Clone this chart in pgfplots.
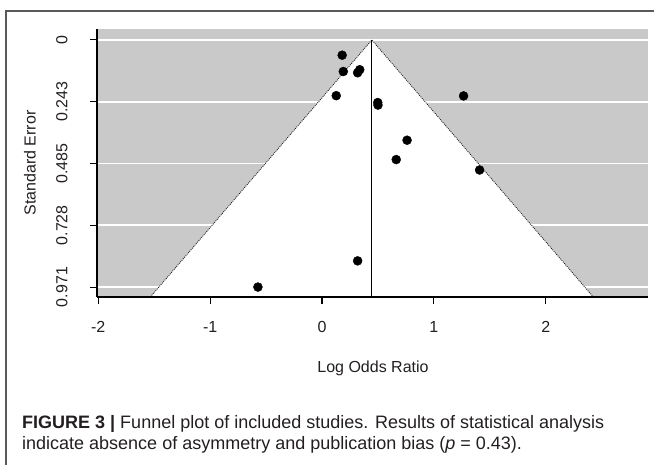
\documentclass[border=0pt]{standalone}
\usepackage{fontspec}
\setmainfont{Liberation Sans}
\usepackage{pgfplots}
\pgfplotsset{compat=1.18}
\definecolor{bggray}{RGB}{201,201,201}
\definecolor{ink}{RGB}{35,31,32}
\begin{document}
\begin{tikzpicture}
\path[use as bounding box] (0,0) rectangle (654pt,465pt);
% outer frame (top and left only visible)
\draw[black!65, line width=1.2pt] (6pt,0pt) -- (6pt,454pt) -- (654pt,454pt);
% standard error is plotted as its negative so that 0 sits at the top
\begin{axis}[
  at={(97pt,168pt)}, anchor=south west,
  width=551pt, height=268pt, scale only axis,
  xmin=-2.011, xmax=2.913, ymin=-1.010, ymax=0.043,
  axis on top, clip=false,
  axis x line*=bottom, axis y line*=left,
  axis line style={black, line width=1.1pt},
  axis background/.style={fill=bggray},
  xtick={-2,-1,0,1,2}, xticklabels={-2,-1,0,1,2},
  ytick={-0.971,-0.728,-0.485,-0.243,0}, yticklabels={0.971,0.728,0.485,0.243,0},
  tick align=outside, major tick length=7pt,
  every tick/.style={black, line width=1.1pt},
  xticklabel style={font=\fontsize{16}{16}\selectfont, text=ink, yshift=-14pt},
  yticklabel style={font=\fontsize{16}{16}\selectfont, text=ink, rotate=90, anchor=south, yshift=19pt},
]
% white grid lines at the y ticks
\addplot[white, line width=1.5pt] coordinates {(-2.011,0) (2.913,0)};
\addplot[white, line width=1.5pt] coordinates {(-2.011,-0.243) (2.913,-0.243)};
\addplot[white, line width=1.5pt] coordinates {(-2.011,-0.485) (2.913,-0.485)};
\addplot[white, line width=1.5pt] coordinates {(-2.011,-0.728) (2.913,-0.728)};
\addplot[white, line width=1.5pt] coordinates {(-2.011,-0.971) (2.913,-0.971)};
% funnel region
\addplot[fill=white, draw=none] coordinates {(-1.5346,-1.010) (0.445,0) (2.4246,-1.010) (-1.5346,-1.010)};
\addplot[black!90, dash pattern=on 1pt off 1pt, line width=0.8pt] coordinates {(-1.5346,-1.010) (0.445,0) (2.4246,-1.010)};
\addplot[black, line width=1pt] coordinates {(0.445,0) (0.445,-1.010)};
% studies
\addplot[only marks, mark=*, mark size=4.5pt, black] coordinates {
  (0.180,-0.060) (0.190,-0.124) (0.337,-0.117) (0.318,-0.129)
  (0.127,-0.219) (0.498,-0.246) (0.500,-0.256) (1.265,-0.220)
  (0.760,-0.394) (0.663,-0.470) (1.408,-0.511) (0.318,-0.868)
  (-0.573,-0.971)
};
% outward tick marks
\pgfplotsinvokeforeach{-2,-1,0,1,2}{
  \draw[black, line width=1.1pt] (axis cs:#1,-1.010) -- ++(0pt,-7pt);
}
\pgfplotsinvokeforeach{-0.971,-0.728,-0.485,-0.243,0}{
  \draw[black, line width=1.1pt] (axis cs:-2.011,#1) -- ++(-7pt,0pt);
}
\end{axis}
\node[text=ink, font=\fontsize{16}{16}\selectfont] at (373pt,97pt) {Log Odds Ratio};
\node[text=ink, font=\fontsize{16}{16}\selectfont, rotate=90] at (30pt,302pt) {Standard Error};
\node[anchor=base west, inner sep=0pt, text=ink, font=\fontsize{18}{18}\selectfont] at (22pt,36pt)
  {\textbf{FIGURE 3 |} Funnel plot of included studies. Results of statistical analysis};
\node[anchor=base west, inner sep=0pt, text=ink, font=\fontsize{18}{18}\selectfont] at (22pt,15pt)
  {indicate absence of asymmetry and publication bias (\textit{p} = 0.43).};
\end{tikzpicture}
\end{document}
